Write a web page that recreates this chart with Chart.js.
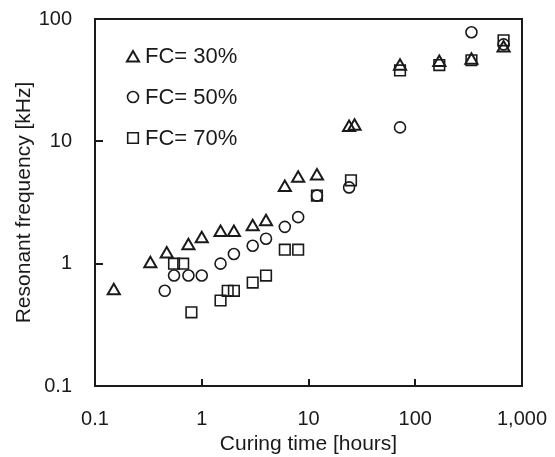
<!DOCTYPE html>
<html>
<head>
<meta charset="utf-8">
<script src="https://cdn.jsdelivr.net/npm/chart.js@4.4.0/dist/chart.umd.min.js"></script>
<style>
  html, body { margin: 0; background: #fff; }
  canvas { display: block; }
</style>
</head>
<body>
<canvas id="chart" width="555" height="457"></canvas>
<script>
"use strict";

/* ---------- data (curing time in hours, resonant frequency in kHz) ---------- */
const seriesLabels = ["FC= 30%", "FC= 50%", "FC= 70%"];

const fc30Hours = [0.15, 0.33, 0.47, 0.75, 1, 1.5, 2, 3, 4, 6, 8, 12, 24, 27, 72, 168, 336, 672];
const fc30Khz   = [0.6, 1.0, 1.2, 1.4, 1.6, 1.8, 1.8, 2.0, 2.2, 4.2, 5.0, 5.2, 13, 13.3, 41, 44, 46, 58];

const fc50Hours = [0.45, 0.55, 0.75, 1, 1.5, 2, 3, 4, 6, 8, 12, 24, 72, 336, 672];
const fc50Khz   = [0.6, 0.8, 0.8, 0.8, 1.0, 1.2, 1.4, 1.6, 2.0, 2.4, 3.6, 4.2, 13, 78, 62];

const fc70Hours = [0.55, 0.67, 0.8, 1.5, 1.75, 2, 3, 4, 6, 8, 12, 25, 72, 168, 336, 672];
const fc70Khz   = [1.0, 1.0, 0.4, 0.5, 0.6, 0.6, 0.7, 0.8, 1.3, 1.3, 3.6, 4.8, 38, 42, 46, 67];

const xTicks = [0.1, 1, 10, 100, 1000];
const xTickLabels = ["0.1", "1", "10", "100", "1,000"];
const yTicks = [0.1, 1, 10, 100];
const yTickLabels = ["0.1", "1", "10", "100"];

const FONT = "'Liberation Sans', Arial, sans-serif";
const INK = "#1a1a1a";

const pts = (xs, ys) => xs.map((x, i) => ({ x, y: ys[i] }));

/* ---------- frame: box round the plot + inward ticks ---------- */
const frame = {
  id: "frame",
  afterDraw(chart) {
    const { ctx, chartArea: a, scales: { x, y } } = chart;
    ctx.save();
    ctx.strokeStyle = INK;
    ctx.lineWidth = 2;
    ctx.strokeRect(a.left, a.top, a.right - a.left, a.bottom - a.top);
    ctx.beginPath();
    xTicks.slice(1, -1).forEach(v => {
      const px = Math.round(x.getPixelForValue(v));
      ctx.moveTo(px, a.bottom); ctx.lineTo(px, a.bottom - 7);
    });
    yTicks.slice(1, -1).forEach(v => {
      const py = Math.round(y.getPixelForValue(v));
      ctx.moveTo(a.left, py); ctx.lineTo(a.left + 8, py);
    });
    ctx.stroke();
    ctx.restore();
  }
};

/* ---------- legend drawn inside the plot, top-left ---------- */
const insideLegend = {
  id: "insideLegend",
  afterDraw(chart) {
    const { ctx, chartArea: a } = chart;
    ctx.save();
    ctx.font = "22px " + FONT;
    ctx.textBaseline = "middle";
    chart.data.datasets.forEach((ds, i) => {
      const cx = a.left + 38, cy = a.top + 37 + i * 41;
      ctx.strokeStyle = ds.borderColor;
      ctx.lineWidth = ds.borderWidth;
      ctx.fillStyle = "rgba(0,0,0,0)";
      Chart.helpers.drawPoint(ctx, { pointStyle: ds.pointStyle, radius: ds.pointRadius,
        borderWidth: ds.borderWidth, rotation: 0 }, cx, cy + (ds.pointStyle === "triangle" ? 2 : 0));
      ctx.fillStyle = INK;
      ctx.fillText(ds.label, a.left + 50, cy + 1);
    });
    ctx.restore();
  }
};

const mkSet = (label, data, style, r, bw) => ({
  label, data, pointStyle: style, pointRadius: r, pointHoverRadius: r,
  borderColor: INK, backgroundColor: "rgba(0,0,0,0)", borderWidth: bw,
  showLine: false
});

new Chart(document.getElementById("chart"), {
  type: "scatter",
  data: {
    datasets: [
      mkSet(seriesLabels[0], pts(fc30Hours, fc30Khz), "triangle", 7, 2),
      mkSet(seriesLabels[1], pts(fc50Hours, fc50Khz), "circle", 5.5, 1.6),
      mkSet(seriesLabels[2], pts(fc70Hours, fc70Khz), "rect", 7.5, 1.6)
    ]
  },
  options: {
    responsive: false,
    animation: false,
    devicePixelRatio: 1,
    layout: { padding: { left: 0, top: 19, right: 33, bottom: 0 } },
    plugins: { legend: { display: false }, tooltip: { enabled: false } },
    scales: {
      x: {
        type: "logarithmic", min: 0.1, max: 1000,
        grid: { display: false, drawTicks: false }, border: { display: false },
        afterBuildTicks: s => { s.ticks = xTicks.map(v => ({ value: v })); },
        afterFit: s => { s.height = 71; s.paddingLeft = 0; s.paddingRight = 0; },
        ticks: { color: INK, font: { family: FONT, size: 20 }, padding: 21, maxRotation: 0,
          autoSkip: false, callback: v => xTickLabels[xTicks.indexOf(v)] },
        title: { display: true, text: "Curing time [hours]", color: INK,
          font: { family: FONT, size: 21 }, padding: { top: 0, bottom: 0 } }
      },
      y: {
        type: "logarithmic", min: 0.1, max: 100,
        grid: { display: false, drawTicks: false }, border: { display: false },
        afterBuildTicks: s => { s.ticks = yTicks.map(v => ({ value: v })); },
        afterFit: s => { s.width = 95; s.paddingTop = 0; s.paddingBottom = 0; },
        ticks: { color: INK, font: { family: FONT, size: 20 }, padding: 23,
          autoSkip: false, callback: v => yTickLabels[yTicks.indexOf(v)] },
        title: { display: true, text: "Resonant frequency [kHz]", color: INK,
          font: { family: FONT, size: 21 }, padding: { top: 12 } }
      }
    }
  },
  plugins: [frame, insideLegend]
});
</script>
</body>
</html>
